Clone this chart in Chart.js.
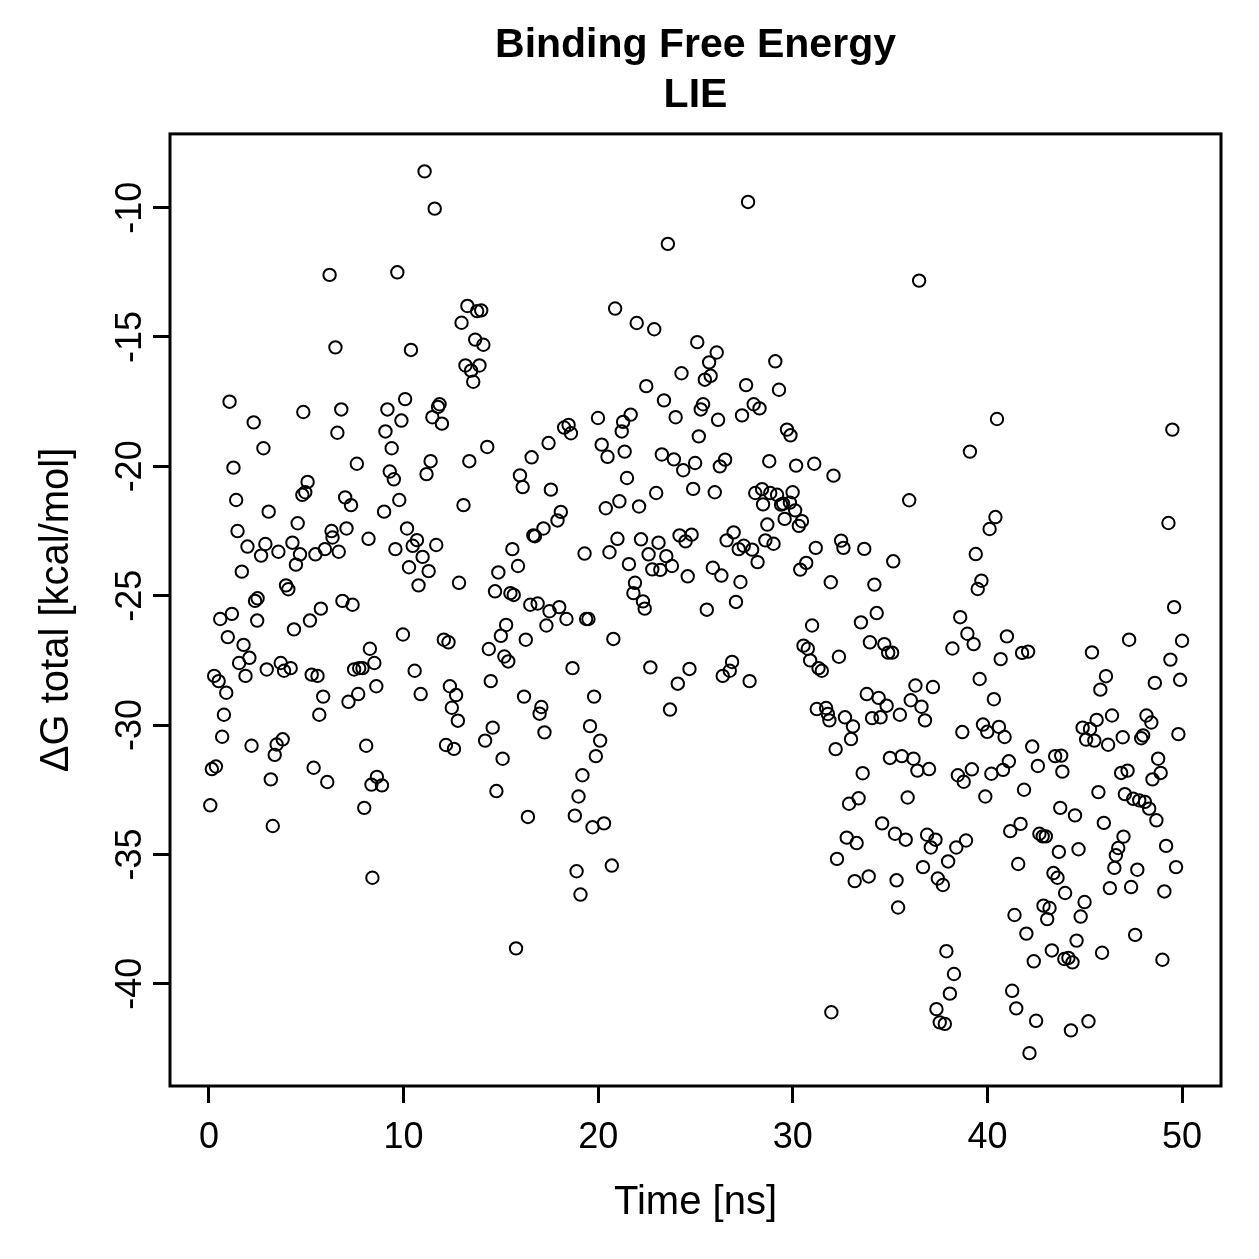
<!DOCTYPE html>
<html>
<head>
<meta charset="utf-8">
<title>Binding Free Energy LIE</title>
<script src="https://cdn.jsdelivr.net/npm/chart.js@4.4.1/dist/chart.umd.min.js"></script>
<style>
  html, body { margin: 0; padding: 0; background: #fff; }
  canvas { display: block; }
</style>
</head>
<body>
<canvas id="lie" width="1259" height="1259"></canvas>
<script>
// values: time [ns] and dG total [kcal/mol]
const timeNs = [
  0.07, 0.15, 0.27, 0.36, 0.5, 0.58, 0.68, 0.77, 0.89, 0.97,
  1.06, 1.18, 1.26, 1.4, 1.47, 1.55, 1.69, 1.78, 1.88, 1.98,
  2.08, 2.19, 2.3, 2.37, 2.48, 2.5, 2.68, 2.8, 2.9, 2.97,
  3.07, 3.18, 3.28, 3.38, 3.48, 3.57, 3.69, 3.79, 3.86, 3.96,
  4.08, 4.2, 4.29, 4.37, 4.47, 4.56, 4.68, 4.8, 4.85, 4.95,
  5.07, 5.19, 5.28, 5.38, 5.47, 5.58, 5.67, 5.75, 5.87, 5.96,
  6.08, 6.2, 6.3, 6.35, 6.5, 6.6, 6.67, 6.8, 6.86, 7.0,
  7.07, 7.17, 7.3, 7.38, 7.46, 7.6, 7.67, 7.72, 7.89, 7.98,
  8.08, 8.2, 8.27, 8.35, 8.4, 8.5, 8.6, 8.63, 8.89,
  9.0, 9.07, 9.17, 9.29, 9.39, 9.5, 9.58, 9.68, 9.78, 9.89,
  9.97, 10.08, 10.18, 10.28, 10.38, 10.47, 10.57, 10.69, 10.77, 10.88,
  10.98, 11.08, 11.18, 11.29, 11.39, 11.48, 11.6, 11.68, 11.77, 11.85,
  11.97, 12.07, 12.18, 12.31, 12.38, 12.48, 12.59, 12.7, 12.79, 12.85,
  12.98, 13.08, 13.18, 13.28, 13.38, 13.47, 13.58, 13.68, 13.78, 13.9,
  13.99, 14.1, 14.19, 14.3, 14.38, 14.48, 14.58, 14.7, 14.77, 14.87,
  15.0, 15.09, 15.18, 15.27, 15.38, 15.49, 15.59, 15.66, 15.78, 15.88,
  15.98, 16.12, 16.19, 16.28, 16.39, 16.51, 16.58, 16.67, 16.75, 16.89,
  16.99, 17.08, 17.19, 17.24, 17.34, 17.45, 17.5, 17.57, 17.91,
  18.0, 18.08, 18.25, 18.37, 18.48, 18.6, 18.68, 18.8, 18.89, 18.99,
  19.09, 19.19, 19.3, 19.38, 19.5, 19.58, 19.71, 19.79, 19.88, 19.99,
  20.1, 20.18, 20.3, 20.39, 20.48, 20.58, 20.7, 20.78, 20.87, 20.99,
  21.09, 21.21, 21.28, 21.36, 21.48, 21.58, 21.67, 21.81, 21.89, 21.98,
  22.1, 22.2, 22.3, 22.39, 22.47, 22.59, 22.68, 22.78, 22.88, 22.98,
  23.1, 23.19, 23.27, 23.38, 23.5, 23.58, 23.69, 23.79, 23.89, 23.98,
  24.09, 24.18, 24.28, 24.37, 24.49, 24.6, 24.69, 24.8, 24.88, 24.98,
  25.09, 25.17, 25.27, 25.39, 25.48, 25.58, 25.7, 25.78, 25.89, 25.99,
  26.09, 26.16, 26.25, 26.33, 26.4, 26.52, 26.6, 26.76, 26.88, 26.96,
  27.08, 27.22, 27.31, 27.39, 27.48, 27.6, 27.7, 27.78, 27.91, 27.99,
  28.07, 28.19, 28.29, 28.42, 28.47, 28.59, 28.69, 28.79, 28.84, 29.01,
  29.1, 29.19, 29.29, 29.4, 29.5, 29.58, 29.7, 29.85, 29.88, 29.99,
  30.12, 30.17, 30.31, 30.38, 30.47, 30.55, 30.69, 30.77, 30.89, 30.99,
  31.1, 31.18, 31.23, 31.32, 31.49, 31.71, 31.8, 31.88, 31.95, 31.98,
  32.09, 32.2, 32.27, 32.37, 32.48, 32.6, 32.68, 32.77, 32.89, 32.99,
  33.09, 33.18, 33.28, 33.38, 33.5, 33.59, 33.67, 33.8, 33.9, 33.96,
  34.07, 34.19, 34.31, 34.41, 34.51, 34.59, 34.7, 34.82, 34.9, 34.99,
  35.1, 35.16, 35.25, 35.33, 35.41, 35.5, 35.6, 35.8, 35.9, 35.98,
  36.06, 36.2, 36.3, 36.4, 36.49, 36.61, 36.69, 36.79, 36.9, 37.0,
  37.09, 37.2, 37.33, 37.38, 37.45, 37.55, 37.71, 37.81, 37.89, 37.98,
  38.07, 38.2, 38.28, 38.4, 38.48, 38.6, 38.71, 38.78, 38.9, 38.97,
  39.1, 39.2, 39.29, 39.4, 39.5, 39.6, 39.69, 39.77, 39.89, 39.99,
  40.11, 40.2, 40.33, 40.41, 40.49, 40.59, 40.68, 40.8, 40.88, 41.0,
  41.1, 41.17, 41.27, 41.39, 41.48, 41.58, 41.7, 41.78, 41.88, 42.0,
  42.09, 42.16, 42.3, 42.38, 42.5, 42.59, 42.67, 42.84, 42.88, 43.0,
  43.07, 43.19, 43.31, 43.39, 43.48, 43.6, 43.67, 43.74, 43.79, 43.85,
  43.95, 43.99, 44.16, 44.29, 44.37, 44.5, 44.58, 44.68, 44.79, 44.89,
  44.99, 45.07, 45.19, 45.27, 45.37, 45.49, 45.61, 45.7, 45.8, 45.89,
  45.98, 46.09, 46.2, 46.29, 46.4, 46.52, 46.6, 46.72, 46.87, 46.95,
  46.99, 47.06, 47.2, 47.28, 47.38, 47.49, 47.59, 47.7, 47.8, 47.9,
  48.0, 48.09, 48.17, 48.31, 48.42, 48.48, 48.6, 48.68, 48.77, 48.9,
  48.99, 49.09, 49.18, 49.3, 49.4, 49.5, 49.59, 49.69, 49.81, 49.9,
  50.0
];
const dGTotal = [
  -33.1, -31.7, -28.1, -31.6, -28.3, -25.9, -30.45, -29.6, -28.75, -26.6,
  -17.5, -25.7, -20.05, -21.3, -22.5, -27.6, -24.07, -26.9, -28.1, -23.1,
  -27.4, -30.8, -18.3, -25.2, -25.96, -25.1, -23.45, -19.3, -23.0, -27.85,
  -21.75, -32.1, -33.9, -31.15, -30.75, -23.3, -27.6, -30.55, -27.9, -24.6,
  -24.75, -27.8, -22.95, -26.3, -23.8, -22.2, -23.4, -21.1, -17.9, -21.0,
  -20.6, -25.96, -28.05, -31.65, -23.4, -28.1, -29.6, -25.5, -28.9, -23.2,
  -32.2, -12.6, -22.5, -22.75, -15.4, -18.7, -23.3, -17.8, -25.2, -21.2,
  -22.4, -29.1, -21.5, -25.35, -27.85, -19.9, -28.8, -27.8, -27.8, -33.2,
  -30.8, -22.8, -27.05, -32.3, -35.9, -27.6, -28.5, -32.0, -32.33,
  -21.75, -18.65, -17.8, -20.2, -19.3, -20.5, -23.2, -12.5, -21.3, -18.23,
  -26.5, -17.4, -22.4, -23.9, -15.5, -23.07, -27.9, -22.85, -24.6, -28.8,
  -23.5, -8.6, -20.3, -24.05, -19.8, -18.1, -10.04, -23.04, -17.7, -17.6,
  -18.35, -26.7, -30.77, -26.8, -28.5, -29.33, -30.92, -28.84, -29.83, -24.5,
  -14.45, -21.5, -16.1, -13.8, -19.8, -16.3, -16.73, -15.1, -14.0, -16.1,
  -13.97, -15.3, -30.6, -19.25, -27.06, -28.3, -30.1, -24.83, -32.55, -24.1,
  -26.55, -31.3, -27.35, -26.13, -27.54, -24.9, -23.2, -24.97, -38.63, -23.85,
  -20.35, -20.8, -28.9, -26.7, -33.55, -25.35, -19.65, -22.67, -22.7, -25.3,
  -29.56, -29.3, -22.4, -30.28, -26.15, -19.1, -25.6, -20.9, -22.09,
  -25.44, -21.76, -18.5, -25.9, -18.4, -18.72, -27.8, -33.5, -35.65, -32.76,
  -36.55, -31.94, -23.37, -25.9, -25.9, -30.04, -33.95, -28.9, -31.2, -18.13,
  -30.6, -19.16, -33.8, -21.62, -19.63, -23.32, -35.43, -26.67, -13.9, -22.8,
  -21.35, -18.65, -18.28, -19.43, -20.45, -23.78, -18.0, -24.9, -24.5, -14.46,
  -21.55, -22.82, -25.22, -25.5, -16.9, -23.4, -27.77, -23.98, -14.7, -21.03,
  -22.95, -24.0, -19.54, -17.45, -23.47, -11.4, -29.4, -23.85, -19.73, -18.1,
  -28.4, -22.67, -16.4, -20.15, -22.9, -24.25, -27.83, -22.64, -20.87, -19.87,
  -15.2, -18.84, -17.8, -17.6, -16.65, -25.54, -15.98, -16.5, -23.92, -21.0,
  -15.6, -18.2, -20.0, -24.22, -28.1, -19.74, -22.86, -27.9, -27.56, -22.55,
  -25.24, -23.2, -24.47, -18.03, -23.07, -16.86, -9.78, -28.3, -23.22, -17.6,
  -21.03, -23.7, -17.76, -20.88, -21.47, -22.86, -22.25, -19.8, -21.03, -22.99,
  -15.94, -21.1, -17.04, -21.48, -21.44, -22.03, -18.58, -21.4, -18.8, -21.0,
  -21.7, -19.97, -22.3, -23.99, -22.12, -26.93, -23.73, -27.05, -27.5, -26.15,
  -19.9, -23.15, -29.38, -27.8, -27.9, -29.34, -29.57, -29.82, -24.48, -41.1,
  -20.36, -30.93, -35.17, -27.36, -22.87, -23.15, -29.7, -34.35, -33.04, -30.54,
  -30.05, -36.03, -34.56, -32.83, -26.03, -31.86, -23.19, -28.8, -35.85, -26.8,
  -29.73, -24.57, -25.67, -28.95, -29.7, -33.8, -26.87, -29.25, -27.2, -31.27,
  -27.2, -23.67, -34.2, -36.0, -37.05, -29.6, -31.2, -34.43, -32.8, -21.31,
  -29.04, -31.3, -28.47, -31.76, -12.82, -29.29, -35.49, -29.82, -34.24, -31.7,
  -34.73, -28.53, -34.43, -40.98, -35.93, -41.49, -36.18, -41.55, -38.74, -35.27,
  -40.38, -27.04, -39.62, -34.73, -31.94, -25.83, -30.27, -32.19, -34.46, -26.47,
  -19.43, -31.71, -26.87, -23.39, -24.74, -28.22, -24.42, -29.98, -32.76, -30.26,
  -22.42, -31.88, -29.0, -21.96, -18.17, -30.07, -27.45, -31.73, -30.46, -26.57,
  -31.4, -34.1, -40.27, -37.34, -40.95, -35.37, -33.82, -27.21, -32.5, -38.06,
  -27.16, -42.68, -30.83, -39.13, -41.43, -31.58, -34.2, -34.3, -36.98, -34.3,
  -37.5, -37.07, -38.71, -35.72, -31.2, -35.9, -34.9, -33.2, -31.18, -31.8,
  -39.04, -36.49, -39.0, -41.8, -39.17, -33.49, -38.33, -34.8, -37.4, -30.1,
  -36.84, -30.56, -41.45, -30.15, -27.19, -30.6, -29.8, -32.59, -28.63, -38.8,
  -33.78, -28.11, -30.76, -36.3, -29.63, -35.52, -35.03, -34.75, -31.85, -30.47,
  -34.31, -32.67, -31.76, -26.7, -36.26, -32.85, -38.11, -35.59, -32.91, -30.51,
  -30.4, -32.97, -29.63, -33.23, -29.9, -32.1, -28.37, -33.68, -31.3, -31.85,
  -39.07, -36.43, -34.67, -22.19, -27.47, -18.58, -25.44, -35.49, -30.35, -28.25,
  -26.74
];
const xTicks = [0, 10, 20, 30, 40, 50];
const yTicks = [-40, -35, -30, -25, -20, -15, -10];
const xRange = [-2, 52];
const yRange = [-43.95, -7.15];

const fontFamily = "'Liberation Sans', Arial, Helvetica, sans-serif";

var points = [];
for (var i = 0; i < timeNs.length; i++) {
  points.push({ x: timeNs[i], y: dGTotal[i] });
}

// R style box around the plot region
const boxPlugin = {
  id: 'plotBox',
  afterDraw(chart) {
    const ctx = chart.ctx;
    const a = chart.chartArea;
    ctx.save();
    ctx.strokeStyle = '#000';
    ctx.lineWidth = 3;
    ctx.strokeRect(a.left, a.top, a.right - a.left, a.bottom - a.top);
    ctx.restore();
  }
};

const data = {
  datasets: [{
    label: 'dG total',
    data: points,
    showLine: false,
    pointStyle: 'circle',
    pointRadius: 6.2,
    pointHoverRadius: 6.2,
    pointBorderWidth: 2,
    borderColor: '#000',
    backgroundColor: 'rgba(0,0,0,0)'
  }]
};

const config = {
  type: 'scatter',
  data: data,
  options: {
    responsive: false,
    devicePixelRatio: 1,
    animation: false,
    events: [],
    layout: { padding: { left: 0, right: 38, top: 0, bottom: 0 } },
    plugins: {
      legend: { display: false },
      tooltip: { enabled: false },
      title: {
        display: true,
        fullSize: false,
        text: ['Binding Free Energy', 'LIE'],
        color: '#000',
        font: { family: fontFamily, size: 41, weight: 'bold', lineHeight: 1.2 },
        padding: { top: 21.5, bottom: 14 }
      }
    },
    scales: {
      x: {
        type: 'linear',
        min: xRange[0],
        max: xRange[1],
        afterBuildTicks: function (s) { s.ticks = xTicks.map(v => ({ value: v })); },
        afterFit: function (s) { s.height = 173; },
        border: { display: false },
        grid: { display: true, drawOnChartArea: false, drawTicks: true, tickLength: 17, color: '#000', lineWidth: 3 },
        ticks: {
          includeBounds: false,
          padding: 13,
          color: '#000',
          font: { family: fontFamily, size: 36 },
          callback: v => String(v)
        },
        title: {
          display: true,
          text: 'Time [ns]',
          color: '#000',
          font: { family: fontFamily, size: 40 },
          padding: { top: 0, bottom: 32 }
        }
      },
      y: {
        type: 'linear',
        min: yRange[0],
        max: yRange[1],
        afterBuildTicks: function (s) { s.ticks = yTicks.map(v => ({ value: v })); },
        afterFit: function (s) { s.width = 170; },
        border: { display: false },
        grid: { display: true, drawOnChartArea: false, drawTicks: true, tickLength: 17, color: '#000', lineWidth: 3 },
        ticks: {
          includeBounds: false,
          minRotation: 90,
          maxRotation: 90,
          crossAlign: 'center',
          padding: -4,
          color: '#000',
          font: { family: fontFamily, size: 36 },
          callback: v => String(v)
        },
        title: {
          display: true,
          text: 'ΔG total [kcal/mol]',
          color: '#000',
          font: { family: fontFamily, size: 40 },
          padding: { top: 33, bottom: 0 }
        }
      }
    }
  },
  plugins: [boxPlugin]
};

const lieChart = new Chart(document.getElementById('lie'), config);
</script>
</body>
</html>
